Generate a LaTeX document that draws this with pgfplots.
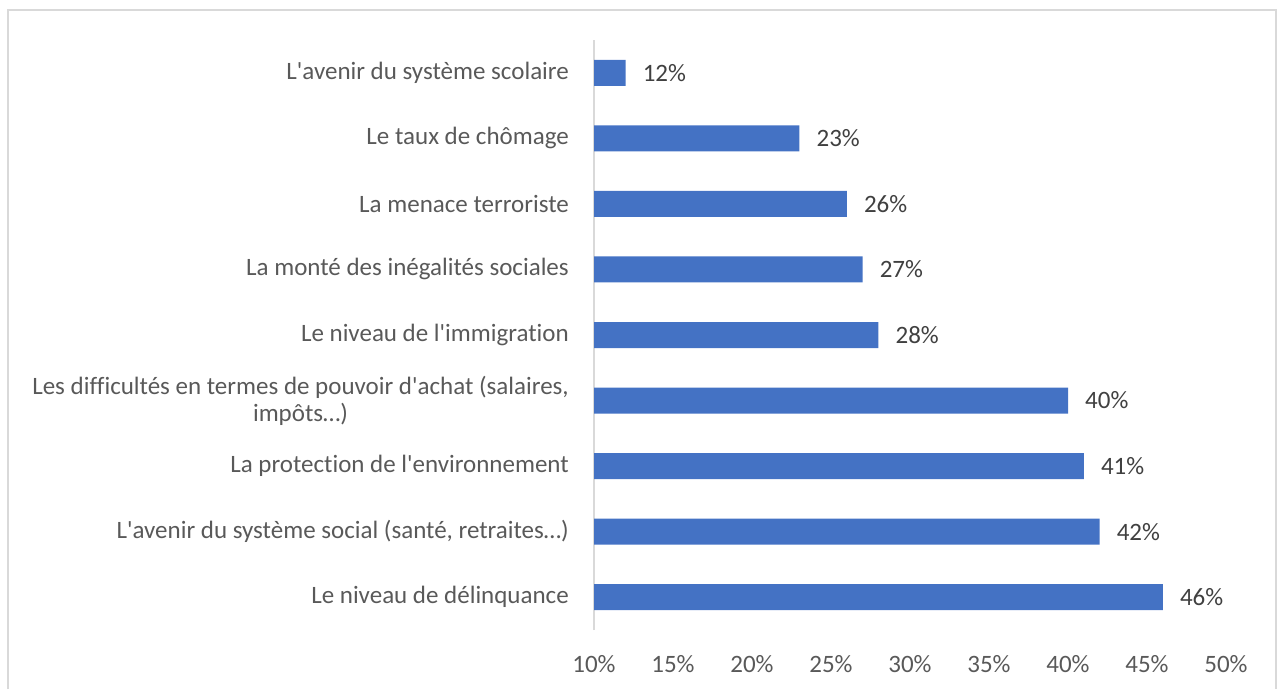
\documentclass[border=0pt]{standalone}
\usepackage{fontspec}
\setmainfont{Carlito}[Ligatures={TeXOff,NoCommon}]
\usepackage{pgfplots}
\pgfplotsset{compat=1.18}
\definecolor{barblue}{HTML}{4472C4}
\definecolor{lbl}{HTML}{595959}
\definecolor{dlbl}{HTML}{404040}
\definecolor{axl}{HTML}{D9D9D9}
\begin{document}
\begin{tikzpicture}[x=1pt,y=1pt]
\path[use as bounding box] (0,0) rectangle (1282,689);
\draw[color=axl, line width=1.2pt] (8,0) -- (8,679) -- (1276,679) -- (1276,0);
\begin{axis}[
  at={(594pt,59pt)}, anchor=south west,
  scale only axis, width=632pt, height=590pt,
  xmin=10, xmax=50, ymin=-0.5, ymax=8.5,
  xbar, bar width=26pt,
  /pgf/number format/assume math mode=true,
  xtick={10,15,...,50},
  xticklabel={\pgfmathprintnumber{\tick}\%},
  ytick={0,...,8},
  yticklabels={
    Le niveau de délinquance,
    L'avenir du système social (santé{,} retraites…),
    La protection de l'environnement,
    {Les difficultés en termes de pouvoir d'achat (salaires,\\impôts…)},
    Le niveau de l'immigration,
    La monté des inégalités sociales,
    La menace terroriste,
    Le taux de chômage,
    L'avenir du système scolaire},
  major tick length=0pt,
  axis x line*=bottom,
  axis y line*=left,
  x axis line style={draw=none},
  y axis line style={draw=axl, line width=1.3pt},
  ticklabel style={font=\fontsize{25}{27}\selectfont, text=lbl},
  xticklabel style={anchor=base, inner sep=0pt, yshift=-42pt},
  yticklabel style={anchor=east, align=center, inner sep=0pt, xshift=-25pt},
  nodes near coords={\pgfmathprintnumber{\pgfplotspointmeta}\%},
  nodes near coords style={anchor=west, inner sep=0pt, xshift=17pt, font=\fontsize{25}{27}\selectfont, text=dlbl},
  clip=true,
]
\addplot[fill=barblue, draw=none] coordinates {
  (46,0) (42,1) (41,2) (40,3) (28,4) (27,5) (26,6) (23,7) (12,8)
};
\end{axis}
\end{tikzpicture}
\end{document}
